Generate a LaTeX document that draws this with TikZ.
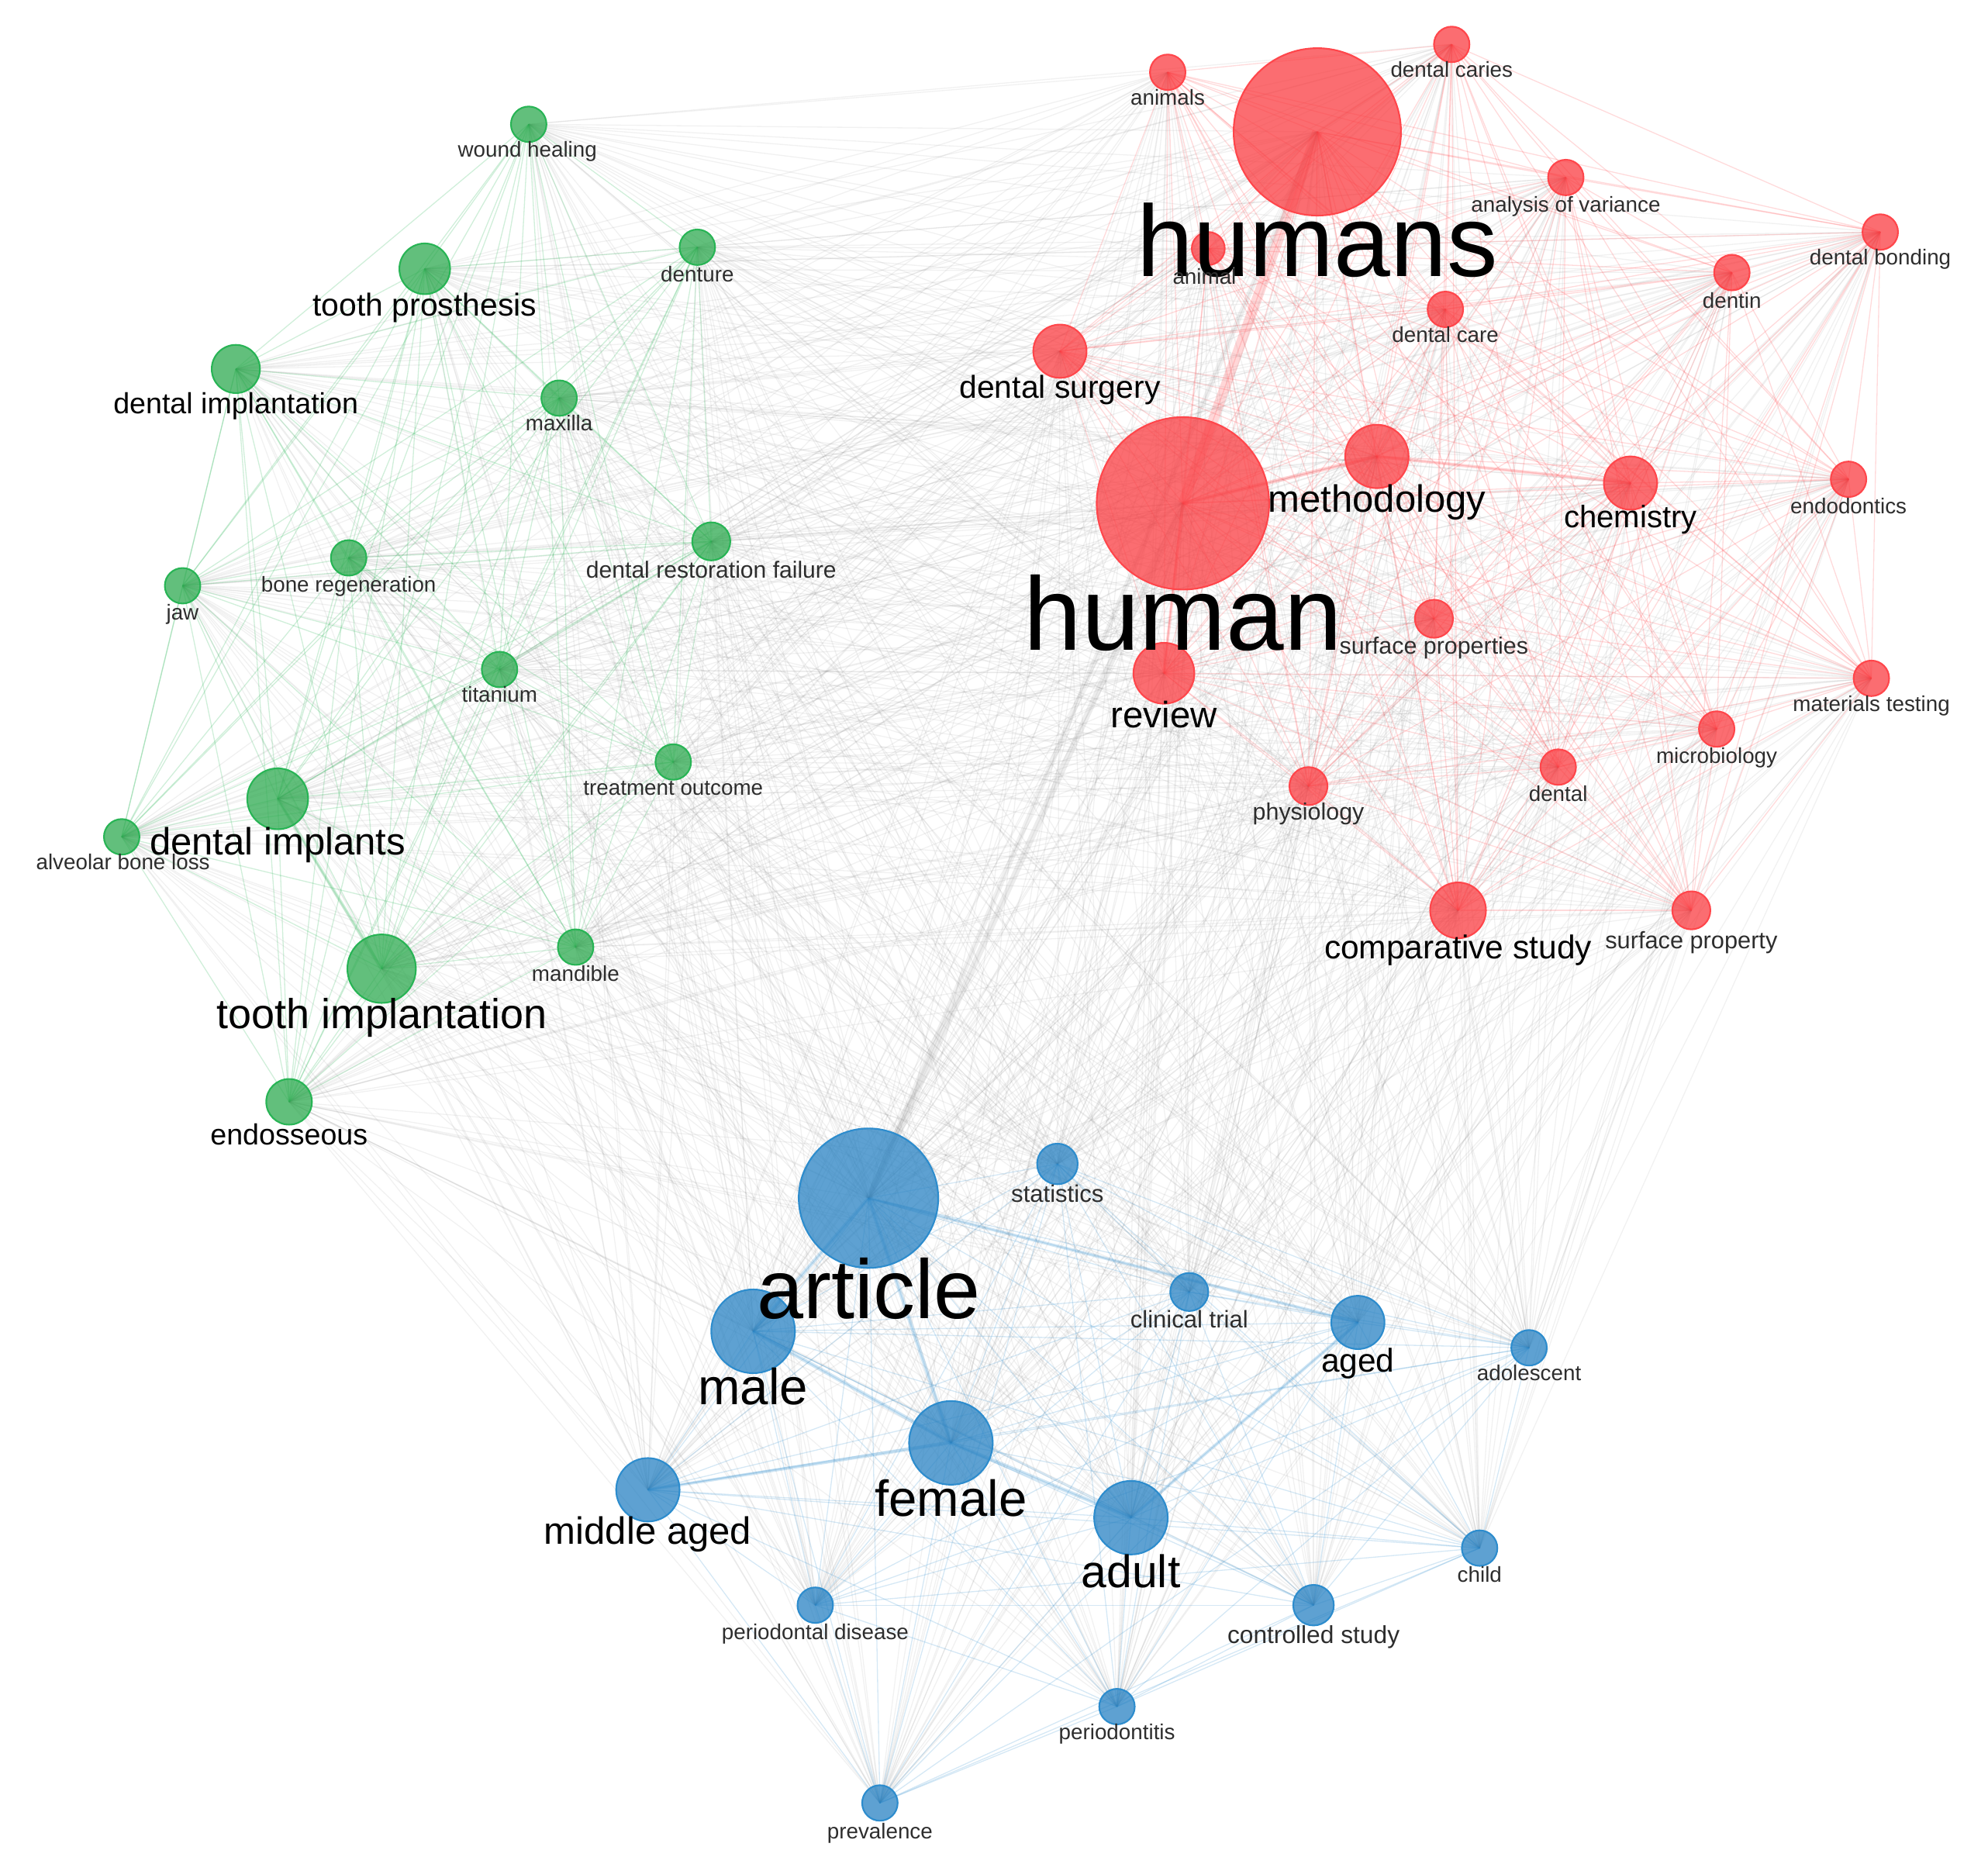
\documentclass[tikz,border=0pt]{standalone}
\usepackage{fontspec}
\setmainfont{Liberation Sans}
\pgfdeclarelayer{bg}
\pgfsetlayers{bg,main}
\definecolor{gfill}{RGB}{46,170,80}
\definecolor{gline}{RGB}{40,180,85}
\definecolor{rfill}{RGB}{250,60,65}
\definecolor{rline}{RGB}{255,70,75}
\definecolor{bfill}{RGB}{40,130,195}
\definecolor{bline}{RGB}{45,140,205}
\definecolor{labgrey}{RGB}{45,45,45}
\definecolor{edgegrey}{RGB}{120,120,120}
\tikzset{
  kw/.style={circle, inner sep=0pt, fill opacity=0.75, line width=1.3pt},
  gkw/.style={kw, fill=gfill, draw=gline},
  rkw/.style={kw, fill=rfill, draw=rline},
  bkw/.style={kw, fill=bfill, draw=bline},
  lab/.style={inner sep=0pt, anchor=base, text=black},
  fs/.style={lab, font=\fontsize{#1}{#1}\selectfont},
  sm/.style={lab, text=labgrey, font=\fontsize{17}{17}\selectfont},
  gedge/.style={draw=gline, opacity=0.22, line width=0.8pt},
  redge/.style={draw=rline, opacity=0.2, line width=0.8pt},
  bedge/.style={draw=bline, opacity=0.2, line width=0.8pt},
  xedge/.style={draw=edgegrey, opacity=0.1, line width=0.8pt},
}
\newcommand\greenlist{woundhealing,toothprosthesis,denture,dentalimplantation,maxilla,dentalrestorationfailure,boneregeneration,jaw,titanium,treatmentoutcome,dentalimplants,alveolarboneloss,mandible,toothimplantation,endosseous}
\newcommand\redlist{animals,humans,dentalcaries,analysisofvariance,dentalbonding,animal,dentin,dentalcare,dentalsurgery,methodology,human,chemistry,endodontics,surfaceproperties,review,materialstesting,microbiology,dental,physiology,comparativestudy,surfaceproperty}
\newcommand\bluelist{statistics,article,clinicaltrial,male,aged,adolescent,female,middleaged,adult,child,periodontaldisease,controlledstudy,periodontitis,prevalence}
\begin{document}
\begin{tikzpicture}[x=1pt,y=-1pt]
\useasboundingbox (0,0) rectangle (1568,1470);
% ---------- green nodes
\node[gkw, minimum size=28] (woundhealing) at (417,98) {};
\node[gkw, minimum size=40] (toothprosthesis) at (335,212) {};
\node[gkw, minimum size=28] (denture) at (550,195) {};
\node[gkw, minimum size=38] (dentalimplantation) at (186,291) {};
\node[gkw, minimum size=28] (maxilla) at (441,314) {};
\node[gkw, minimum size=30] (dentalrestorationfailure) at (561,427) {};
\node[gkw, minimum size=28] (boneregeneration) at (275,440) {};
\node[gkw, minimum size=28] (jaw) at (144,462) {};
\node[gkw, minimum size=28] (titanium) at (394,528) {};
\node[gkw, minimum size=28] (treatmentoutcome) at (531,601) {};
\node[gkw, minimum size=48] (dentalimplants) at (219,630) {};
\node[gkw, minimum size=28] (alveolarboneloss) at (96,660) {};
\node[gkw, minimum size=28] (mandible) at (454,747) {};
\node[gkw, minimum size=54] (toothimplantation) at (301,764) {};
\node[gkw, minimum size=36] (endosseous) at (228,869) {};
% ---------- red nodes
\node[rkw, minimum size=28] (animals) at (921,57) {};
\node[rkw, minimum size=132] (humans) at (1039,104) {};
\node[rkw, minimum size=28] (dentalcaries) at (1145,35) {};
\node[rkw, minimum size=28] (analysisofvariance) at (1235,140) {};
\node[rkw, minimum size=28] (dentalbonding) at (1483,183) {};
\node[rkw, minimum size=26] (animal) at (953,196) {};
\node[rkw, minimum size=28] (dentin) at (1366,215) {};
\node[rkw, minimum size=28] (dentalcare) at (1140,244) {};
\node[rkw, minimum size=42] (dentalsurgery) at (836,277) {};
\node[rkw, minimum size=50] (methodology) at (1086,360) {};
\node[rkw, minimum size=136] (human) at (933,397) {};
\node[rkw, minimum size=42] (chemistry) at (1286,381) {};
\node[rkw, minimum size=28] (endodontics) at (1458,378) {};
\node[rkw, minimum size=30] (surfaceproperties) at (1131,488) {};
\node[rkw, minimum size=48] (review) at (918,531) {};
\node[rkw, minimum size=28] (materialstesting) at (1476,535) {};
\node[rkw, minimum size=28] (microbiology) at (1354,575) {};
\node[rkw, minimum size=28] (dental) at (1229,605) {};
\node[rkw, minimum size=30] (physiology) at (1032,620) {};
\node[rkw, minimum size=44] (comparativestudy) at (1150,718) {};
\node[rkw, minimum size=30] (surfaceproperty) at (1334,718) {};
% ---------- blue nodes
\node[bkw, minimum size=32] (statistics) at (834,918) {};
\node[bkw, minimum size=110] (article) at (685,945) {};
\node[bkw, minimum size=30] (clinicaltrial) at (938,1019) {};
\node[bkw, minimum size=66] (male) at (594,1050) {};
\node[bkw, minimum size=42] (aged) at (1071,1043) {};
\node[bkw, minimum size=28] (adolescent) at (1206,1063) {};
\node[bkw, minimum size=66] (female) at (750,1138) {};
\node[bkw, minimum size=50] (middleaged) at (511,1175) {};
\node[bkw, minimum size=58] (adult) at (892,1197) {};
\node[bkw, minimum size=28] (child) at (1167,1221) {};
\node[bkw, minimum size=28] (periodontaldisease) at (643,1266) {};
\node[bkw, minimum size=32] (controlledstudy) at (1036,1266) {};
\node[bkw, minimum size=28] (periodontitis) at (881,1346) {};
\node[bkw, minimum size=28] (prevalence) at (694,1422) {};
% ---------- edges
\begin{pgfonlayer}{bg}
\foreach \a in \greenlist {\foreach \b in \redlist {\draw[xedge] (\a.center) -- (\b.center);}}
\foreach \a in \greenlist {\foreach \b in \bluelist {\draw[xedge] (\a.center) -- (\b.center);}}
\foreach \a in \redlist {\foreach \b in \bluelist {\draw[xedge] (\a.center) -- (\b.center);}}
\foreach \a [count=\i] in \greenlist {\foreach \b [count=\j] in \greenlist {\ifnum\j>\i \draw[gedge] (\a.center) -- (\b.center);\fi}}
\foreach \a [count=\i] in \redlist {\foreach \b [count=\j] in \redlist {\ifnum\j>\i \draw[redge] (\a.center) -- (\b.center);\fi}}
\foreach \a [count=\i] in \bluelist {\foreach \b [count=\j] in \bluelist {\ifnum\j>\i \draw[bedge] (\a.center) -- (\b.center);\fi}}
\draw[redge, line width=8pt, opacity=0.22] (humans.center) -- (human.center);
\draw[redge, line width=3pt, opacity=0.25] (human.center) -- (methodology.center);
\draw[redge, line width=2.5pt, opacity=0.22] (methodology.center) -- (chemistry.center);
\draw[redge, line width=2.5pt, opacity=0.22] (human.center) -- (review.center);
\draw[xedge, line width=5pt, opacity=0.14] (article.center) -- (human.center);
\draw[xedge, line width=4pt, opacity=0.12] (article.center) -- (humans.center);
\draw[bedge, line width=3pt, opacity=0.22] (article.center) -- (male.center);
\draw[bedge, line width=3pt, opacity=0.22] (article.center) -- (female.center);
\draw[bedge, line width=3pt, opacity=0.22] (male.center) -- (female.center);
\draw[bedge, line width=3pt, opacity=0.22] (female.center) -- (adult.center);
\draw[bedge, line width=2.5pt, opacity=0.22] (female.center) -- (middleaged.center);
\draw[bedge, line width=2.5pt, opacity=0.22] (adult.center) -- (aged.center);
\draw[bedge, line width=2.5pt, opacity=0.22] (article.center) -- (aged.center);
\draw[gedge, line width=2.5pt, opacity=0.22] (dentalimplants.center) -- (toothimplantation.center);
\end{pgfonlayer}
% ---------- labels
\node[sm] (woundhealing-l) at (416,124) {wound healing};
\node[fs=25] (toothprosthesis-l) at (335,249) {tooth prosthesis};
\node[sm] (denture-l) at (550,222) {denture};
\node[fs=23] (dentalimplantation-l) at (186,326) {dental implantation};
\node[sm] (maxilla-l) at (441,340) {maxilla};
\node[sm, font=\fontsize{18.4}{18}\selectfont] (dentalrestorationfailure-l) at (561,456) {dental restoration failure};
\node[sm] (boneregeneration-l) at (275,467) {bone regeneration};
\node[sm] (jaw-l) at (144,489) {jaw};
\node[sm] (titanium-l) at (394,554) {titanium};
\node[sm] (treatmentoutcome-l) at (531,627) {treatment outcome};
\node[fs=30] (dentalimplants-l) at (219,674) {dental implants};
\node[sm] (alveolarboneloss-l) at (97,686) {alveolar bone loss};
\node[sm] (mandible-l) at (454,774) {mandible};
\node[fs=33] (toothimplantation-l) at (301,811) {tooth implantation};
\node[fs=23] (endosseous-l) at (228,903) {endosseous};
\node[sm] (animals-l) at (921,83) {animals};
\node[sm] (dentalcaries-l) at (1145,61) {dental caries};
\node[fs=80] (humans-l) at (1039,218) {humans};
\node[sm] (analysisofvariance-l) at (1235,167) {analysis of variance};
\node[sm] (dentalbonding-l) at (1483,209) {dental bonding};
\node[sm] (animal-l) at (950,224) {animal};
\node[sm] (dentin-l) at (1366,243) {dentin};
\node[sm] (dentalcare-l) at (1140,270) {dental care};
\node[fs=25] (dentalsurgery-l) at (836,314) {dental surgery};
\node[fs=30] (methodology-l) at (1086,404) {methodology};
\node[fs=82] (human-l) at (933,513) {human};
\node[fs=24.5] (chemistry-l) at (1286,416) {chemistry};
\node[sm] (endodontics-l) at (1458,405) {endodontics};
\node[sm, font=\fontsize{18.6}{18}\selectfont] (surfaceproperties-l) at (1131,516) {surface properties};
\node[fs=29] (review-l) at (918,574) {review};
\node[sm] (materialstesting-l) at (1476,561) {materials testing};
\node[sm] (microbiology-l) at (1354,602) {microbiology};
\node[sm] (dental-l) at (1229,632) {dental};
\node[sm, font=\fontsize{18.6}{18}\selectfont] (physiology-l) at (1032,647) {physiology};
\node[fs=26] (comparativestudy-l) at (1150,756) {comparative study};
\node[sm, font=\fontsize{18.8}{18}\selectfont] (surfaceproperty-l) at (1334,748) {surface property};
\node[sm, font=\fontsize{19}{19}\selectfont] (statistics-l) at (834,948) {statistics};
\node[fs=66] (article-l) at (685,1040) {article};
\node[sm, font=\fontsize{19}{19}\selectfont] (clinicaltrial-l) at (938,1047) {clinical trial};
\node[fs=40] (male-l) at (594,1108) {male};
\node[fs=26] (aged-l) at (1071,1082) {aged};
\node[sm] (adolescent-l) at (1206,1089) {adolescent};
\node[fs=40] (female-l) at (750,1196) {female};
\node[fs=30] (middleaged-l) at (511,1218) {middle aged};
\node[fs=36] (adult-l) at (892,1252) {adult};
\node[sm] (child-l) at (1167,1248) {child};
\node[sm] (periodontaldisease-l) at (643,1293) {periodontal disease};
\node[sm, font=\fontsize{19.4}{19}\selectfont] (controlledstudy-l) at (1036,1296) {controlled study};
\node[sm] (periodontitis-l) at (881,1372) {periodontitis};
\node[sm] (prevalence-l) at (694,1450) {prevalence};
\end{tikzpicture}
\end{document}
